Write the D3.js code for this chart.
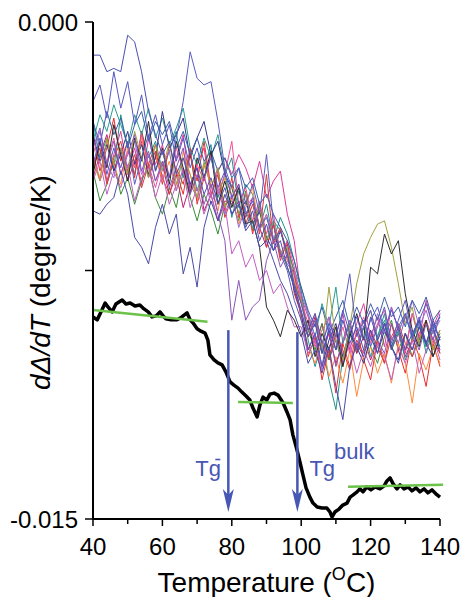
<!DOCTYPE html>
<html>
<head>
<meta charset="utf-8">
<script src="https://cdn.jsdelivr.net/npm/d3@7"></script>
<style>
body { margin: 0; background: #fff; }
svg { display: block; }
text { font-family: "Liberation Sans", Arial, sans-serif; }
</style>
</head>
<body>
<svg id="chart" width="461" height="597"></svg>
<script>
// all y values below are in units of 1e-4 degree/K
const unit = 1e-4

const temps = [40,42,44,46,48,50,52,54,56,58, 60,62,64,66,68,70,72,74,76,78, 80,82,84,86,88,90,92,94,96,98, 100,102,104,106,108,110,112,114,116,118, 120,122,124,126,128,130,132,134,136,138,140]

const scanBlack  = [-46,-36,-44,-31,-40,-48,-35,-42,-30,-45, -38,-49,-36,-44,-52,-41,-47,-39,-55,-48, -56,-50,-61,-60,-68,-86,-90,-95,-87,-90, -95,-90,-101,-94,-99,-92,-104,-95,-88,-96, -74,-76,-64,-70,-66,-82,-93,-98,-90,-101,-95]
const scanOlive  = [-42,-48,-35,-43,-38,-46,-33,-41,-47,-37, -45,-36,-49,-41,-46,-53,-42,-50,-44,-56, -49,-58,-52,-61,-56,-66,-60,-70,-68,-79, -84,-95,-90,-99,-80,-96,-102,-92,-79,-70, -65,-61,-60,-68,-79,-91,-86,-97,-90,-99,-93]
const scanRed    = [-34,-45,-38,-29,-42,-36,-47,-33,-44,-39, -49,-37,-45,-52,-40,-48,-36,-50,-44,-57, -47,-59,-52,-64,-55,-68,-61,-72,-66,-82, -88,-101,-95,-108,-99,-112,-97,-104,-93,-102, -108,-96,-103,-91,-99,-106,-95,-101,-110,-97,-104]
const scanMagenta= [-44,-36,-48,-40,-33,-45,-38,-49,-35,-43, -37,-47,-41,-34,-50,-43,-38,-52,-45,-41, -46,-40,-44,-50,-42,-53,-48,-45,-58,-66, -83,-89,-97,-91,-102,-94,-88,-99,-91,-85, -95,-89,-98,-86,-93,-100,-88,-96,-84,-92,-87]
const scanTeal   = [-30,-41,-35,-44,-28,-38,-46,-33,-41,-36, -45,-39,-33,-47,-40,-51,-44,-37,-53,-46, -41,-56,-49,-52,-62,-55,-66,-59,-64,-72, -81,-96,-104,-97,-108,-117,-101,-93,-99,-92, -101,-95,-88,-99,-93,-102,-96,-90,-100,-93,-98]
const scanOrange = [-41,-47,-36,-43,-49,-38,-44,-35,-46,-40, -48,-42,-51,-39,-46,-54,-43,-49,-57,-47, -52,-61,-55,-50,-63,-58,-67,-62,-70,-77, -89,-98,-103,-96,-107,-101,-109,-99,-113,-102, -98,-106,-100,-109,-97,-103,-115,-100,-105,-98,-103]
const scanPurple = [-38,-32,-43,-36,-46,-40,-34,-45,-39,-48, -42,-50,-44,-38,-52,-46,-55,-49,-58,-66, -90,-78,-90,-86,-84,-72,-66,-74,-70,-80, -88,-95,-90,-100,-93,-104,-96,-90,-99,-92, -87,-96,-100,-91,-97,-89,-94,-99,-91,-96,-88]
const scanViolet = [-43,-35,-46,-38,-44,-36,-49,-41,-34,-45, -39,-47,-35,-24,-9,-17,-19,-18,-30,-44, -50,-44,-55,-49,-58,-40,-61,-70,-75,-84, -90,-99,-94,-104,-92,-99,-88,-76,-95,-90, -98,-92,-86,-97,-90,-84,-95,-89,-97,-91,-96]
const scanLowBlue= [-57,-58,-55,-53,-45,-52,-65,-68,-73,-62, -55,-64,-58,-76,-68,-80,-62,-54,-60,-52, -58,-55,-63,-60,-68,-66,-72,-78,-82,-88, -94,-103,-99,-106,-98,-110,-120,-104,-97,-101, -93,-100,-91,-98,-103,-94,-99,-92,-97,-90,-96]
const scanGreen  = [-45,-54,-49,-42,-52,-47,-55,-48,-43,-53, -58,-50,-56,-45,-53,-60,-52,-57,-64,-55, -54,-60,-51,-63,-57,-66,-61,-69,-74,-80, -84,-93,-99,-91,-102,-96,-104,-94,-100,-92, -98,-103,-95,-90,-99,-94,-101,-96,-91,-99,-94]
const scanWine   = [-47,-40,-34,-45,-38,-48,-42,-36,-47,-41, -43,-52,-46,-56,-49,-44,-57,-52,-60,-54, -55,-50,-59,-53,-62,-68,-61,-71,-67,-76, -90,-95,-89,-100,-94,-103,-97,-91,-100,-95, -102,-96,-91,-99,-94,-101,-96,-90,-98,-93,-100]
const scanPink   = [-40,-48,-42,-35,-46,-39,-44,-34,-43,-50, -42,-47,-38,-45,-51,-43,-48,-40,-52,-46, -36,-55,-50,-60,-54,-64,-58,-70,-66,-74, -84,-91,-98,-93,-89,-99,-92,-100,-94,-89, -97,-91,-87,-96,-92,-99,-88,-95,-91,-97,-93]
const scanNavy   = [-34,-42,-37,-45,-40,-33,-43,-37,-46,-41, -27,-38,-34,-29,-41,-35,-30,-40,-36,-46, -50,-58,-54,-61,-57,-65,-69,-63,-70,-81, -88,-99,-94,-104,-96,-91,-101,-94,-98,-103, -95,-100,-93,-98,-102,-94,-99,-92,-97,-101,-95]
const scanBrick  = [-44,-38,-49,-41,-36,-46,-40,-50,-43,-37, -47,-52,-44,-49,-38,-55,-47,-53,-46,-59, -53,-49,-61,-55,-64,-46,-67,-62,-72,-76, -85,-93,-88,-97,-101,-94,-99,-105,-96,-100, -93,-98,-103,-95,-91,-97,-101,-94,-90,-96,-100]
const scanLilac  = [-40,-33,-43,-47,-38,-44,-36,-46,-40,-48, -43,-39,-51,-44,-49,-53,-46,-55,-50,-58, -52,-62,-56,-53,-63,-58,-65,-69,-73,-76, -82,-88,-95,-99,-89,-96,-102,-92,-98,-90, -96,-88,-94,-86,-93,-89,-84,-92,-87,-94,-90]
const scanIndigo = [-24,-19,-29,-15,-26,-18,-31,-22,-35,-28, -37,-31,-42,-35,-44,-38,-47,-41,-50,-45, -53,-49,-58,-54,-62,-59,-66,-63,-70,-79, -85,-93,-88,-97,-91,-95,-87,-94,-89,-96, -90,-86,-93,-87,-92,-88,-95,-90,-85,-92,-89]
const scanTopBlue= [-10,-10,-15,-14,-15,-4,-6,-15,-27,-34, -40,-36,-46,-41,-49,-44,-52,-47,-55,-50, -58,-54,-62,-57,-66,-61,-69,-66,-74,-80, -87,-95,-91,-100,-93,-99,-90,-97,-92,-99, -89,-96,-91,-98,-92,-99,-94,-90,-97,-92,-99]
const scanCyan   = [-36,-28,-33,-25,-31,-37,-28,-34,-26,-35, -29,-37,-32,-26,-38,-43,-35,-41,-34,-45, -59,-51,-57,-62,-55,-66,-60,-63,-69,-75, -80,-88,-95,-85,-92,-80,-97,-91,-99,-92, -87,-95,-90,-98,-94,-88,-96,-91,-98,-93,-89]
const scanOrchid = [-48,-42,-52,-45,-50,-43,-54,-47,-44,-53, -46,-55,-49,-45,-56,-50,-58,-52,-60,-55, -70,-66,-74,-70,-78,-75,-82,-79,-86,-92, -92,-100,-96,-105,-98,-94,-103,-97,-106,-99, -104,-97,-101,-108,-98,-103,-96,-106,-99,-95,-102]
const scanSteel  = [-30,-37,-27,-34,-29,-38,-31,-27,-36,-30, -34,-30,-38,-33,-40,-35,-42,-39,-45,-41, -47,-44,-50,-47,-55,-52,-58,-62,-66,-72, -80,-87,-92,-86,-94,-89,-84,-92,-86,-91, -85,-90,-83,-89,-86,-92,-84,-88,-83,-90,-87]

const scans = [scanMagenta, scanGreen, scanWine, scanTeal, scanRed, scanOrange, scanCyan, scanPink, scanNavy, scanBrick,
               scanLilac, scanOrchid, scanSteel, scanOlive, scanBlack, scanPurple, scanIndigo, scanViolet, scanLowBlue, scanTopBlue]
const scanColors = ['#e0399a','#3b8c3b','#b8206e','#1f8f8f','#e8302e','#ff8a3d','#2a9d8f','#f0509a','#34348a','#d43c3c',
                    '#9a6ad0','#c060c0','#3d5fa8','#a0a040','#2b2b2b','#8a55b8','#5656c4','#5b5bbf','#4a4aa8','#4b4fb0']

// averaged curve (thick black)
const avgT = [40,41.2,42.3,43.5,44.3,45.5,46.6,48.4,49.5,50.7,52.1,53.5,54.7,55.9,57,58.2,59.3,60.2,61,62.5,64.2,65.6,67.1,68,68.8,70,71.1,72.3,73.1,73.7,74.9,76,77.2,78.3,79.5,80.6,81.8,82.9,84.1,85.2,86.1,87.3,88.1,89,90.1,91,92.2,93.3,94.8,95.9,96.8,97.6,98.8,99.7,100.5,101.4,102.5,103.4,104.6,106,107.4,108.3,108.9,109.7,110.9,112,113.2,114.1,114.9,116.1,116.9,117.8,118.9,120.1,121.3,122.7,123.9,124.7,125.6,126.5,127.6,128.5,129.6,130.8,131.9,133.1,134.2,135.4,136.5,137.7,138.8,140]
const avgV = [-89.0,-89.9,-87.5,-84.8,-86.0,-87.5,-85.1,-83.9,-85.1,-84.8,-85.7,-85.4,-86.6,-87.5,-89.0,-88.7,-87.5,-88.7,-89.6,-89.9,-89.9,-89.0,-87.8,-89.9,-90.8,-92.6,-93.3,-93.9,-96.0,-100.5,-102.0,-102.9,-103.5,-105.6,-108.6,-109.6,-110.5,-111.7,-112.9,-114.1,-116.5,-119.2,-115.6,-113.2,-114.1,-112.3,-112.0,-112.6,-115.0,-117.7,-120.1,-124.6,-129.2,-133.1,-136.7,-140.6,-143.4,-145.2,-146.4,-146.7,-146.7,-147.9,-149.4,-147.9,-147.0,-145.8,-145.2,-143.4,-142.8,-141.8,-140.9,-141.8,-140.3,-141.2,-140.3,-140.9,-140.0,-138.5,-137.6,-139.4,-140.9,-139.7,-140.9,-140.3,-141.5,-140.6,-141.8,-140.9,-142.1,-141.2,-142.4,-143.4]

// linear fits (green), pairs of [T, value]
const fits = [
  [[40, -86.9], [73, -90.5]],
  [[81.8, -114.7], [97.6, -115.0]],
  [[113.5, -140.3], [140.9, -139.7]]
]

// Tg arrows
const arrowT = [79, 98.9]
const arrowTop = [-93.0, -93.6]
const arrowTip = -147.9

const xTicks = [40,50,60,70,80,90,100,110,120,130,140]
const yTicks = [0, -0.0075, -0.015]

const svg = d3.select('#chart')
const margin = {left: 93, top: 22, right: 21, bottom: 78}
const W = 461, H = 597

const x = d3.scaleLinear().domain([40, 140]).range([margin.left, W - margin.right])
const y = d3.scaleLinear().domain([0, -0.015]).range([margin.top, H - margin.bottom])

const line = d3.line().x(d => x(d[0])).y(d => y(d[1] * unit))

// noisy scans
svg.append('g').selectAll('path')
  .data(scans)
  .join('path')
  .attr('d', s => line(s.map((v, i) => [temps[i], v])))
  .attr('fill', 'none')
  .attr('stroke', (s, i) => scanColors[i])
  .attr('stroke-width', 1)
  .attr('stroke-linejoin', 'round')

// average curve
svg.append('path')
  .attr('d', line(avgT.map((t, i) => [t, avgV[i]])))
  .attr('fill', 'none')
  .attr('stroke', '#000')
  .attr('stroke-width', 3.5)
  .attr('stroke-linejoin', 'round')

// fits
svg.append('g').selectAll('path')
  .data(fits)
  .join('path')
  .attr('d', line)
  .attr('stroke', '#6cc24a')
  .attr('stroke-width', 2.5)

// arrows
const blue = '#4857b3'
const ag = svg.append('g')
arrowT.forEach((t, i) => {
  const ax = x(t), y0 = y(arrowTop[i] * unit), y1 = y(arrowTip * unit)
  ag.append('line').attr('x1', ax).attr('x2', ax).attr('y1', y0).attr('y2', y1 - 12)
    .attr('stroke', blue).attr('stroke-width', 2.5)
  ag.append('path')
    .attr('d', `M${ax},${y1} L${ax - 5.5},${y1 - 23} L${ax},${y1 - 17} L${ax + 5.5},${y1 - 23} Z`)
    .attr('fill', blue)
})

// labels for arrows
const a1 = x(arrowT[0]), a2 = x(arrowT[1])
ag.append('text').attr('x', a1 - 33).attr('y', 476).attr('font-size', 22).attr('fill', blue).text('Tg')
ag.append('line').attr('x1', a1 - 13).attr('x2', a1 - 8).attr('y1', 459.5).attr('y2', 459.5)
  .attr('stroke', blue).attr('stroke-width', 1.6)
const tb = ag.append('text').attr('x', a2 + 12).attr('y', 476).attr('font-size', 22).attr('fill', blue)
tb.append('tspan').text('Tg')
tb.append('tspan').attr('dx', -1).attr('dy', -17).text('bulk')

// axes
const xAxis = svg.append('g').attr('transform', `translate(0,${y(-0.015)})`)
xAxis.append('line').attr('x1', x(40)).attr('x2', x(140)).attr('stroke', '#000').attr('stroke-width', 2)
xAxis.selectAll('.tk').data(xTicks).join('line')
  .attr('x1', d => x(d)).attr('x2', d => x(d))
  .attr('y1', 0).attr('y2', d => d % 20 === 0 ? 7 : 5)
  .attr('stroke', '#000').attr('stroke-width', 1.5)
xAxis.selectAll('text').data(xTicks.filter(d => d % 20 === 0)).join('text')
  .attr('x', d => x(d)).attr('y', 36)
  .attr('text-anchor', 'middle').attr('font-size', 24)
  .text(d => d)

const yAxis = svg.append('g').attr('transform', `translate(${x(40)},0)`)
yAxis.append('line').attr('y1', y(0)).attr('y2', y(-0.015)).attr('stroke', '#000').attr('stroke-width', 2)
yAxis.selectAll('.tk').data(yTicks).join('line')
  .attr('x1', -8).attr('x2', 0)
  .attr('y1', d => y(d)).attr('y2', d => y(d))
  .attr('stroke', '#000').attr('stroke-width', 1.5)
yAxis.selectAll('text').data([0, -0.015]).join('text')
  .attr('x', -15).attr('y', d => y(d)).attr('dy', '0.36em')
  .attr('text-anchor', 'end').attr('font-size', 24)
  .text(d => d3.format('.3f')(d).replace('−', '-'))

// axis titles
const xt = svg.append('text').attr('x', (x(40) + x(140)) / 2).attr('y', 592)
  .attr('text-anchor', 'middle').attr('font-size', 28)
xt.append('tspan').text('Temperature (')
xt.append('tspan').attr('font-size', 18).attr('dy', -12).text('O')
xt.append('tspan').attr('dy', 12).text('C)')

const yt = svg.append('text')
  .attr('transform', `translate(50,${(y(0) + y(-0.015)) / 2 + 12}) rotate(-90)`)
  .attr('text-anchor', 'middle').attr('font-size', 28)
yt.append('tspan').attr('font-style', 'italic').text('dΔ/dT')
yt.append('tspan').text(' (degree/K)')
</script>
</body>
</html>
